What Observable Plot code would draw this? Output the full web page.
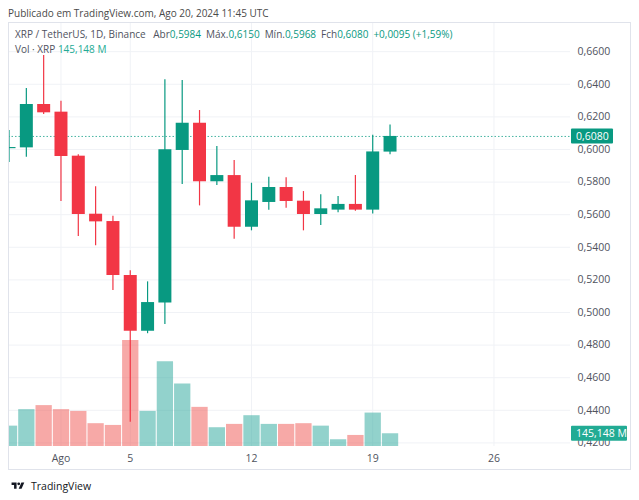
<!DOCTYPE html>
<html>
<head>
<meta charset="utf-8">
<script src="https://cdn.jsdelivr.net/npm/d3@7"></script>
<script src="https://cdn.jsdelivr.net/npm/@observablehq/plot@0.6"></script>
<style>
  html, body { margin: 0; padding: 0; background: #fff; }
  body { font-family: "Open Sans", "Noto Sans", sans-serif; }
  #wrap { position: relative; width: 639px; height: 500px; overflow: hidden; }
  #hdr { position: absolute; left: 8px; top: 5px; font-size: 10px; line-height: 16px; color: #4a4a4a; white-space: nowrap; }
  #chart { position: absolute; left: 0; top: 22px; }
  #box { position: absolute; left: 8px; top: 22px; width: 623px; height: 448px; border: 1px solid #e0e3eb; box-sizing: border-box; pointer-events: none; }
  #leg { position: absolute; left: 15px; top: 27px; font-size: 10px; line-height: 15px; color: #50535e; white-space: nowrap; }
  #leg .g { color: #089981; }
  #leg .v { color: #22ab94; }
  #leg .sp { display: inline-block; width: 5px; }
  #foot { position: absolute; left: 8px; top: 478px; height: 16px; display: flex; align-items: center; font-size: 10.5px; color: #131722; }
  #foot svg { margin-right: 3px; }
</style>
</head>
<body>
<div id="wrap">
  <div id="hdr">Publicado em TradingView.com, Ago 20, 2024 11:45 UTC</div>
  <div id="chart"></div>
  <div id="leg"></div>
  <div id="box"></div>
  <div id="foot"><svg width="20" height="10" viewBox="0 0 36 28"><path d="M14 22H7V11H0V4h14v18z" fill="#131722"/><circle cx="20" cy="8" r="4" fill="#131722"/><path d="M28 22h-8l7.5-18h8L28 22z" fill="#131722"/></svg><span>TradingView</span></div>
</div>
<script>
// ---- data ----
const dates  = ["2024-07-29","2024-07-30","2024-07-31","2024-08-01","2024-08-02","2024-08-03","2024-08-04","2024-08-05",
                "2024-08-06","2024-08-07","2024-08-08","2024-08-09","2024-08-10","2024-08-11","2024-08-12","2024-08-13",
                "2024-08-14","2024-08-15","2024-08-16","2024-08-17","2024-08-18","2024-08-19","2024-08-20"];
const open   = [0.6005,0.6010,0.6276,0.6229,0.5959,0.5603,0.5558,0.5227,0.4885,0.5059,0.5994,0.6161,0.5802,0.5840,0.5523,0.5675,
                0.5767,0.5683,0.5601,0.5628,0.5663,0.5628,0.5984];
const high   = [0.6117,0.6374,0.6577,0.6296,0.5967,0.5771,0.5591,0.5256,0.5188,0.6428,0.6423,0.6239,0.6018,0.5933,0.5793,0.5830,
                0.5826,0.5742,0.5722,0.5712,0.5840,0.6088,0.6150];
const low    = [0.5920,0.5953,0.6215,0.5681,0.5466,0.5409,0.5135,0.4327,0.4870,0.4926,0.5785,0.5654,0.5779,0.5450,0.5501,0.5628,
                0.5640,0.5501,0.5534,0.5612,0.5621,0.5605,0.5968];
const close  = [0.6012,0.6276,0.6225,0.5957,0.5601,0.5556,0.5227,0.4885,0.5061,0.5998,0.6161,0.5802,0.5840,0.5523,0.5685,0.5767,
                0.5681,0.5601,0.5636,0.5663,0.5628,0.5985,0.6080];
const volume = [232,420,466,420,400,260,240,1208,400,965,713,446,214,252,351,252,252,260,232,77,126,381,145.148]; // millions
const priceTicks = [0.42,0.44,0.46,0.48,0.50,0.52,0.54,0.56,0.58,0.60,0.62,0.64,0.66];
const timeTicks  = ["2024-08-01","2024-08-05","2024-08-12","2024-08-19","2024-08-26"];
const timeLabels = ["Ago","5","12","19","26"];

// ---- setup ----
const UP = "#089981", DOWN = "#F23645";
const VUP = "rgba(38,166,154,0.5)", VDOWN = "rgba(239,83,80,0.5)";
const GRID = "#f0f2f6";
const FONT = "'Open Sans', 'Noto Sans', sans-serif";
const parse = d3.utcParse("%Y-%m-%d");
const DAY = 864e5;
const data = dates.map((d, i) => ({date: parse(d), open: open[i], high: high[i], low: low[i], close: close[i], vol: volume[i]}));
const last = data[data.length - 1], prev = data[data.length - 2];
const tickDates = timeTicks.map(parse);
const labelOf = new Map(tickDates.map((d, i) => [+d, timeLabels[i]]));
const xStart = new Date(data[0].date.getTime() - 0.03 * DAY);
const xEnd = new Date(xStart.getTime() + 32.45 * DAY);
const yDomain = [0.4178, 0.6779];
const vMax = d3.max(volume);
const volTop = d => yDomain[0] + d.vol / vMax * 0.25 * (yDomain[1] - yDomain[0]);
const fmt = v => v.toFixed(4).replace(".", ",");
const col = d => d.close >= d.open ? UP : DOWN;

const W = 639, H = 448, ML = 8, MR = 69, MT = 0, MB = 24;
const plot = Plot.plot({
  width: W, height: H, marginLeft: ML, marginRight: MR, marginTop: MT, marginBottom: MB,
  style: {background: "transparent", fontFamily: FONT, fontSize: "10.5px", color: "#50535e"},
  x: {type: "utc", domain: [xStart, xEnd], ticks: tickDates, tickFormat: d => labelOf.get(+d) ?? "", tickSize: 0, tickPadding: 8, label: null},
  y: {domain: yDomain, axis: "right", ticks: priceTicks, tickFormat: fmt, tickSize: 0, tickPadding: 7, label: null},
  marks: [
    Plot.ruleY(priceTicks, {stroke: GRID}),
    Plot.ruleX(tickDates, {stroke: GRID}),
    Plot.ruleX(data, {x: "date", y1: () => yDomain[0], y2: volTop, stroke: d => d.close >= d.open ? VUP : VDOWN, strokeWidth: 16.3, clip: true}),
    Plot.ruleY([last.close], {stroke: UP, strokeDasharray: "1.5,2", strokeOpacity: 0.75}),
    Plot.ruleX(data, {x: "date", y1: "low", y2: "high", stroke: col, strokeWidth: 1.2, clip: true}),
    Plot.ruleX(data, {x: "date", y1: "open", y2: "close", stroke: col, strokeWidth: 13, clip: true})
  ]
});
document.getElementById("chart").appendChild(plot);

// price / volume tags on the right axis
const ys = plot.scale("y");
const svg = d3.select(plot);
function tag(yv, w, fill, label) {
  const y = ys.apply(yv);
  const g = svg.append("g").attr("text-anchor", "start");
  g.append("rect").attr("x", W - MR + 1).attr("y", y - 7.5).attr("width", w).attr("height", 15).attr("rx", 1).attr("fill", fill);
  g.append("text").attr("x", W - MR + 6).attr("y", y).attr("dy", "0.35em").attr("fill", "#fff")
    .attr("font-size", "10.5px").attr("font-family", FONT).text(label);
}
tag(last.close, 42, UP, fmt(last.close));
tag(volTop(last), 56, "#22ab94", last.vol.toFixed(3).replace(".", ",") + " M");

// legend
const chg = last.close - prev.close;
const pct = chg / prev.close * 100;
const sgn = v => (v >= 0 ? "+" : "−");
document.getElementById("leg").innerHTML =
  `<div>XRP / TetherUS, 1D, Binance<span class="sp"></span> Abr<span class="g">${fmt(last.open)}</span><span class="sp"></span>` +
  `Máx.<span class="g">${fmt(last.high)}</span><span class="sp"></span>Mín.<span class="g">${fmt(last.low)}</span><span class="sp"></span>` +
  `Fch<span class="g">${fmt(last.close)}</span><span class="sp"></span><span class="g">${sgn(chg)}${fmt(Math.abs(chg))} (${sgn(chg)}${Math.abs(pct).toFixed(2).replace(".", ",")}%)</span></div>` +
  `<div>Vol · XRP <span class="v">${last.vol.toFixed(3).replace(".", ",")} M</span></div>`;
</script>
</body>
</html>
